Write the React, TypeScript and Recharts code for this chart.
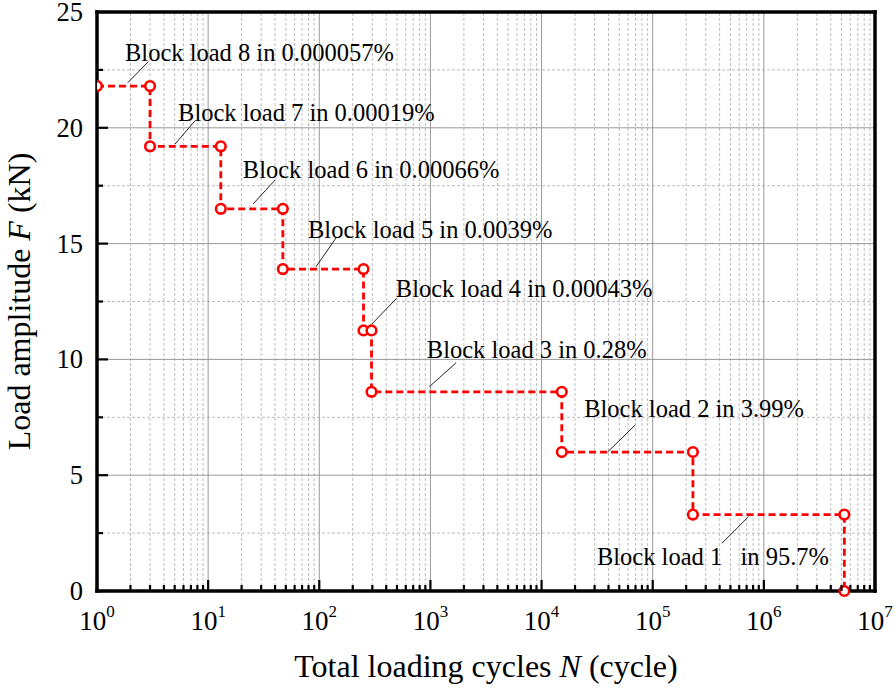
import { LineChart, Line, XAxis, YAxis, ReferenceLine, ReferenceDot } from "recharts";

const SERIF = '"Liberation Serif", "Times New Roman", serif';

// step curve of the block loading spectrum
const cycles = [1, 3, 3, 13, 13, 47, 47, 250, 250, 295, 295, 15200, 15200, 230000, 230000, 5.3e6, 5.3e6];
const amplitude = [21.8, 21.8, 19.2, 19.2, 16.5, 16.5, 13.9, 13.9, 11.25, 11.25, 8.6, 8.6, 6.0, 6.0, 3.3, 3.3, 0];

const blockLabels = [
  "Block load 8 in 0.000057%",
  "Block load 7 in 0.00019%",
  "Block load 6 in 0.00066%",
  "Block load 5 in 0.0039%",
  "Block load 4 in 0.00043%",
  "Block load 3 in 0.28%",
  "Block load 2 in 3.99%",
  "Block load 1   in 95.7%",
];
const blockLevels = [21.8, 19.2, 16.5, 13.9, 11.25, 8.6, 6.0, 3.3];

const decadeTicks = [1, 10, 100, 1000, 1e4, 1e5, 1e6, 1e7];
const decadeExponents = ["0", "1", "2", "3", "4", "5", "6", "7"];
const minorMultipliers = [2, 3, 4, 5, 6, 7, 8, 9];
const yTicks = [0, 2.5, 5, 7.5, 10, 12.5, 15, 17.5, 20, 22.5, 25];

// where each leader line meets the curve (N), plus pixel offsets of leader and text
const labelLayout = [
  { n: 1.89, lead: [0, -3.4, 20.6, -24.4], tx: -2.7, ty: -25 },
  { n: 5.04, lead: [0, -2.3, 20, -25.6], tx: 3, ty: -25.6 },
  { n: 25.4, lead: [0, -4.9, 22, -28.9], tx: -10.3, ty: -30.9 },
  { n: 93.5, lead: [0, -2.4, 20, -31.1], tx: -8, ty: -31.4 },
  { n: 297, lead: [0, -6.4, 25, -32.4], tx: 24, ty: -33.7 },
  { n: 979, lead: [0, -5.1, 26.7, -29.1], tx: -2.6, ty: -33.5 },
  { n: 39500, lead: [0, -0.3, 27.3, -27], tx: -23.7, ty: -34.7 },
  { n: 728000, lead: [0, 2.1, -26.6, 28.7], tx: -151.6, ty: 50.4 },
];

const data = cycles.map((n, i) => ({ n, f: amplitude[i] }));

const minorX = decadeTicks.slice(0, -1).flatMap((d) => minorMultipliers.map((m) => m * d));
const xTicks = [...decadeTicks, ...minorX].sort((a, b) => a - b);

const XTick = (props: any) => {
  const { x, y, payload } = props;
  const idx = decadeTicks.indexOf(payload.value);
  const major = idx >= 0;
  return (
    <g>
      <line x1={x} x2={x} y1={y} y2={y - (major ? 11 : 6)} stroke="#000" strokeWidth={2.2} />
      {major && (
        <text x={x} y={y + 39} textAnchor="middle" fontFamily={SERIF} fontSize={27} fill="#000">
          10
          <tspan dy={-13} fontSize={17}>
            {decadeExponents[idx]}
          </tspan>
        </text>
      )}
    </g>
  );
};

const YTick = (props: any) => {
  const { x, y, payload } = props;
  const major = payload.value % 5 === 0;
  return (
    <g>
      <line x1={x} x2={x + (major ? 11 : 6)} y1={y} y2={y} stroke="#000" strokeWidth={2.2} />
      {major && (
        <text x={x - 14} y={y + 9} textAnchor="end" fontFamily={SERIF} fontSize={26.5} fill="#000">
          {payload.value}
        </text>
      )}
    </g>
  );
};

const XTitle = (props: any) => {
  const { x, y, width } = props.viewBox;
  return (
    <text x={x + width / 2} y={y + 86} textAnchor="middle" fontFamily={SERIF} fontSize={32} fill="#000">
      Total loading cycles <tspan fontStyle="italic">N</tspan> (cycle)
    </text>
  );
};

const YTitle = (props: any) => {
  const { y, height } = props.viewBox;
  const cx = 30;
  const cy = y + height / 2;
  return (
    <text
      x={cx}
      y={cy}
      transform={`rotate(-90 ${cx} ${cy})`}
      textAnchor="middle"
      fontFamily={SERIF}
      fontSize={32}
      fill="#000"
    >
      Load amplitude <tspan fontStyle="italic">F</tspan> (kN)
    </text>
  );
};

export default function App() {
  return (
    <div style={{ position: "absolute", left: 0, top: 0, width: 896, height: 691, background: "#fff" }}>
      <LineChart width={896} height={691} data={data} margin={{ top: 12, right: 21, bottom: 40, left: 37 }}>
        {minorX.map((v) => (
          <ReferenceLine key={`mx-${v}`} x={v} stroke="#bdbdbd" strokeDasharray="3 2" />
        ))}
        {yTicks
          .filter((v) => v % 5 !== 0)
          .map((v) => (
            <ReferenceLine key={`my-${v}`} y={v} stroke="#bdbdbd" strokeDasharray="3 2" />
          ))}
        {decadeTicks.slice(1, -1).map((v) => (
          <ReferenceLine key={`Mx-${v}`} x={v} stroke="#999" />
        ))}
        {[5, 10, 15, 20].map((v) => (
          <ReferenceLine key={`My-${v}`} y={v} stroke="#999" />
        ))}
        <ReferenceLine y={25} stroke="#000" strokeWidth={3.5} ifOverflow="visible" strokeLinecap="square" />
        <ReferenceLine x={1e7} stroke="#000" strokeWidth={3.5} ifOverflow="visible" strokeLinecap="square" />
        <XAxis
          dataKey="n"
          type="number"
          scale="log"
          domain={[1, 1e7]}
          allowDataOverflow
          ticks={xTicks}
          interval={0}
          tickSize={0}
          tickMargin={0}
          tickLine={false}
          tick={<XTick />}
          axisLine={{ stroke: "#000", strokeWidth: 3.5, strokeLinecap: "square" }}
          height={60}
          label={{ content: (p: any) => <XTitle {...p} /> }}
        />
        <YAxis
          type="number"
          domain={[0, 25]}
          ticks={yTicks}
          interval={0}
          tickSize={0}
          tickMargin={0}
          tickLine={false}
          tick={<YTick />}
          axisLine={{ stroke: "#000", strokeWidth: 3.5, strokeLinecap: "square" }}
          width={60}
          label={{ content: (p: any) => <YTitle {...p} /> }}
        />
        <Line
          type="linear"
          dataKey="f"
          stroke="#ff0000"
          strokeWidth={2.8}
          strokeDasharray="7 4"
          dot={{ r: 4.8, fill: "#fff", stroke: "#ff0000", strokeWidth: 2.6, strokeDasharray: "" }}
          isAnimationActive={false}
        />
        {labelLayout.map((l, i) => (
          <ReferenceDot
            key={`lbl-${i}`}
            x={l.n}
            y={blockLevels[i]}
            r={1}
            shape={(p: any) => (
              <g>
                <line
                  x1={p.cx + l.lead[0]}
                  y1={p.cy + l.lead[1]}
                  x2={p.cx + l.lead[2]}
                  y2={p.cy + l.lead[3]}
                  stroke="#222"
                  strokeWidth={1}
                />
                <text
                  x={p.cx + l.tx}
                  y={p.cy + l.ty}
                  fontFamily={SERIF}
                  fontSize={24.5}
                  fill="#000"
                  style={{ whiteSpace: "pre" }}
                >
                  {blockLabels[i]}
                </text>
              </g>
            )}
          />
        ))}
      </LineChart>
    </div>
  );
}
